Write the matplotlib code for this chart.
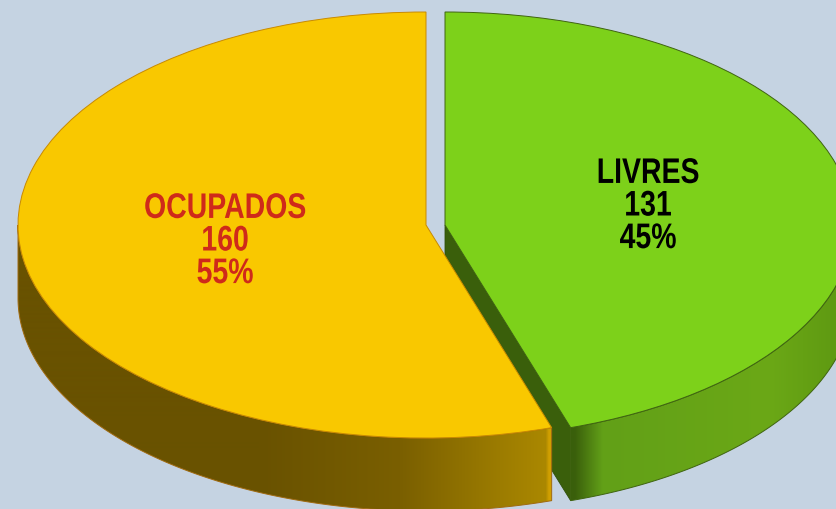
import numpy as np
import matplotlib
matplotlib.use("Agg")
import matplotlib.pyplot as plt
from matplotlib.colors import LinearSegmentedColormap
from matplotlib.patches import Polygon
from matplotlib.patheffects import AbstractPathEffect
from matplotlib.transforms import Affine2D

# data
names = ["LIVRES", "OCUPADOS"]
values = [131, 160]
percents = [45, 55]

W, H = 836, 510
RX, RY = 408, 213
DEPTH = 73 / RY
BG = "#c5d3e2"

# pie centres in pixels, y measured from the top of the picture
cx_yellow, cx_green, cy = 426, 445, 226


def to_x(px):
    return (px - cx_yellow) / RX


def to_y(py):
    return (cy - py) / RY


# narrow look for the labels, there is no condensed font installed
class Squeeze(AbstractPathEffect):
    def __init__(self, sx, center_px):
        super().__init__()
        self.sx = sx
        self.center_px = center_px

    def draw_path(self, renderer, gc, tpath, affine, rgbFace=None):
        squeeze = Affine2D().translate(-self.center_px, 0).scale(self.sx, 1).translate(self.center_px, 0)
        renderer.draw_path(gc, tpath, affine + squeeze, rgbFace)


fig = plt.figure(figsize=(W / 100, H / 100), dpi=100, facecolor=BG)
ax = fig.add_axes([0, 0, 1, 1])

# green slice runs clockwise from 12 o'clock, yellow takes the rest
split = 2 * np.pi * values[0] / sum(values)
x0_green = to_x(cx_green)


def outer_wall(cx, a0, a1):
    t = np.linspace(a0, a1, 200)
    top = np.column_stack([cx + np.sin(t), np.cos(t)])
    bottom = (top - [0, DEPTH])[::-1]
    return np.vstack([top, bottom])


def shaded(points, stops, edge, z):
    # horizontal gradient clipped to the wall shape
    cmap = LinearSegmentedColormap.from_list("wall", stops, N=W)
    im = ax.imshow(np.linspace(0, 1, W).reshape(1, -1), cmap=cmap, aspect="auto",
                   extent=[to_x(0), to_x(W), to_y(H), to_y(0)], zorder=z)
    poly = Polygon(points, closed=True, facecolor="none", edgecolor=edge, linewidth=0.7, zorder=z + 0.1)
    ax.add_patch(poly)
    im.set_clip_path(poly)


# green walls
tip = [x0_green + np.sin(split), np.cos(split)]
inner = [[x0_green, 0], tip, [tip[0], tip[1] - DEPTH], [x0_green, -DEPTH]]
ax.add_patch(Polygon(inner, closed=True, facecolor="#3a5f0b", edgecolor="#2f4f0a", linewidth=0.6, zorder=1))

green_stops = [(0, "#3a5f0b"), (575 / W, "#3a5f0b"), (603 / W, "#62a018"),
               (770 / W, "#6ba816"), (1, "#5f9a12")]
shaded(outer_wall(x0_green, np.pi / 2, split), green_stops, "#3f6410", 2)

# yellow wall, only the front part shows
yellow_stops = [(0, "#695200"), (260 / W, "#695200"), (400 / W, "#7a5f00"),
                (500 / W, "#9c7c00"), (546 / W, "#ab8800"), (549 / W, "#d09f00"), (1, "#d09f00")]
shaded(outer_wall(0, split, 2 * np.pi - np.pi / 2), yellow_stops, "#a06a10", 3)

# tops of the slices
colors = ["#7dd11a", "#f9c800"]
edges = ["#3f6410", "#c98a00"]
top_green, _ = ax.pie(values, center=(x0_green, 0), startangle=90, counterclock=False, colors=colors,
                      wedgeprops={"edgecolor": edges[0], "linewidth": 0.7})
top_yellow, _ = ax.pie(values, center=(0, 0), startangle=90, counterclock=False, colors=colors,
                       wedgeprops={"edgecolor": edges[1], "linewidth": 0.7})
top_green[0].set_zorder(2.5)
top_green[1].set_visible(False)
top_yellow[0].set_visible(False)
top_yellow[1].set_zorder(4)

# labels
text_colors = ["black", "#cf2a1a"]
text_pos = [(648, 207), (225, 242)]
for i in range(2):
    label = f"{names[i]}\n{values[i]}\n{percents[i]}%"
    t = ax.text(to_x(text_pos[i][0]), to_y(text_pos[i][1]), label, ha="center", va="center",
                color=text_colors[i], fontsize=25.6, fontweight="bold", linespacing=0.91,
                family="Liberation Sans", zorder=6)
    t.set_path_effects([Squeeze(0.8, text_pos[i][0])])

ax.set_aspect("auto")
ax.set_xlim(to_x(0), to_x(W))
ax.set_ylim(to_y(H), to_y(0))
ax.axis("off")

fig.savefig("out.png", dpi=100, facecolor=BG)
